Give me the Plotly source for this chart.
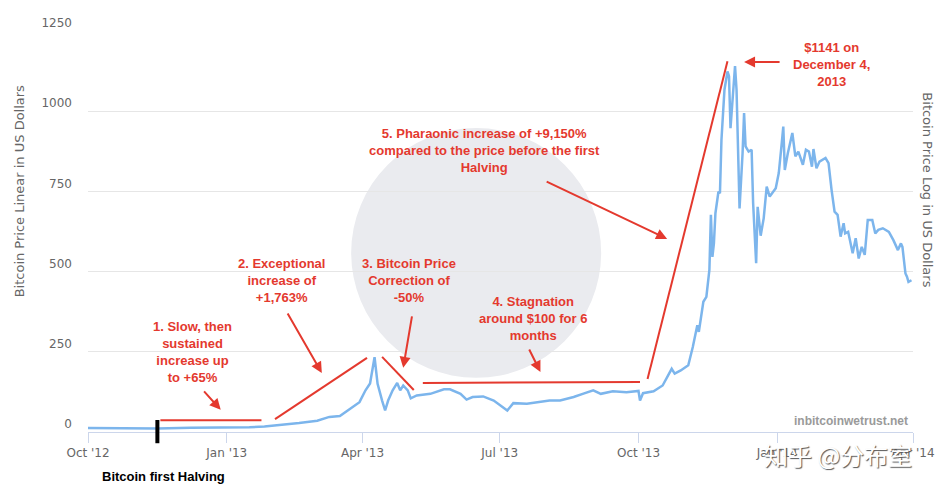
import plotly.graph_objects as go

# daily-ish closing prices
dates = [
    "2012-10-01", "2012-10-22", "2012-11-16", "2012-12-08", "2013-01-01", "2013-01-16",
    "2013-01-26", "2013-02-07", "2013-02-18", "2013-03-02", "2013-03-10", "2013-03-17",
    "2013-03-22", "2013-03-26", "2013-03-30", "2013-04-03", "2013-04-06", "2013-04-09",
    "2013-04-11", "2013-04-14", "2013-04-16", "2013-04-18", "2013-04-21", "2013-04-24",
    "2013-04-26", "2013-04-28", "2013-05-01", "2013-05-03", "2013-05-07", "2013-05-16",
    "2013-05-25", "2013-05-29", "2013-06-05", "2013-06-09", "2013-06-13", "2013-06-20",
    "2013-06-27", "2013-07-06", "2013-07-10", "2013-07-19", "2013-07-28", "2013-08-03",
    "2013-08-10", "2013-08-19", "2013-08-25", "2013-09-01", "2013-09-06", "2013-09-14",
    "2013-09-23", "2013-10-01", "2013-10-02", "2013-10-04", "2013-10-11", "2013-10-17",
    "2013-10-23", "2013-10-25", "2013-10-29", "2013-11-03", "2013-11-06", "2013-11-09",
    "2013-11-10", "2013-11-13", "2013-11-15", "2013-11-17", "2013-11-18", "2013-11-19",
    "2013-11-20", "2013-11-21", "2013-11-23", "2013-11-24", "2013-11-25", "2013-11-27",
    "2013-11-29", "2013-11-30", "2013-12-01", "2013-12-03", "2013-12-04", "2013-12-05",
    "2013-12-07", "2013-12-09", "2013-12-10", "2013-12-11", "2013-12-13", "2013-12-15",
    "2013-12-16", "2013-12-18", "2013-12-19", "2013-12-21", "2013-12-23", "2013-12-25",
    "2013-12-27", "2013-12-31", "2014-01-02", "2014-01-04", "2014-01-05", "2014-01-06",
    "2014-01-08", "2014-01-11", "2014-01-13", "2014-01-15", "2014-01-18", "2014-01-20",
    "2014-01-22", "2014-01-24", "2014-01-25", "2014-01-27", "2014-01-29", "2014-02-02",
    "2014-02-04", "2014-02-06", "2014-02-08", "2014-02-10", "2014-02-12", "2014-02-14",
    "2014-02-15", "2014-02-17", "2014-02-20", "2014-02-22", "2014-02-24", "2014-02-26",
    "2014-02-28", "2014-03-02", "2014-03-05", "2014-03-07", "2014-03-09", "2014-03-12",
    "2014-03-16", "2014-03-19", "2014-03-22", "2014-03-24", "2014-03-25", "2014-03-27",
    "2014-03-28", "2014-03-29", "2014-03-31",
]
prices = [
    12.5, 11.8, 11.2, 13.0, 13.5, 14.5,
    17, 22, 28, 35, 47, 50,
    67, 78, 93, 130, 151, 233,
    150, 98, 67, 98, 130, 153,
    130, 145, 130, 105, 114, 119,
    133, 133, 119, 101, 109, 111,
    98, 67, 90, 88, 93, 98,
    98, 109, 119, 130, 119, 127,
    124, 128, 98, 121, 127, 145,
    197, 182, 192, 208, 265, 333,
    312, 406, 421, 505, 677, 546,
    588, 682, 749, 744, 911, 1067,
    1124, 1109, 947, 1088, 1141, 1067,
    697, 869, 994, 890, 874, 880,
    713, 526, 702, 612, 666, 765,
    734, 760, 807, 901, 952, 817,
    869, 932, 859, 874, 833, 880,
    874, 827, 882, 822, 843, 854,
    838, 755, 687, 677, 609, 651,
    619, 624, 557, 604, 541, 577,
    552, 661, 661, 619, 630, 635,
    624, 598, 567, 588, 577, 494,
    484, 468, 473,
]

x_ticks = ["2012-10-01", "2013-01-01", "2013-04-01", "2013-07-01", "2013-10-01", "2014-01-01", "2014-04-01"]
x_labels = ["Oct '12", "Jan '13", "Apr '13", "Jul '13", "Oct '13", "Jan '14", "Apr '14"]
y_ticks = [0, 250, 500, 750, 1000, 1250]

halving_date = "2012-11-16"

RED = "#e4392e"
GREY = "#666666"
TICK_FONT = "DejaVu Sans"
NOTE_FONT = "Liberation Sans, Arial, sans-serif"

fig = go.Figure()

fig.add_trace(go.Scatter(
    x=dates,
    y=prices,
    mode="lines",
    line=dict(color="#7cb5ec", width=2.5),
    hoverinfo="x+y",
    showlegend=False,
))

# faint round logo watermark behind the plot
fig.add_shape(type="circle", xref="paper", yref="paper",
              x0=0.319, x1=0.622, y0=0.135, y1=0.758,
              fillcolor="#eaebef", line=dict(width=0), layer="below")

# red guide lines drawn over the chart
segments = [
    ("2012-11-18", 37, "2013-01-24", 37),
    ("2013-02-02", 40, "2013-04-04", 231),
    ("2013-04-14", 234, "2013-05-05", 131),
    ("2013-05-11", 153, "2013-10-02", 156),
    ("2013-10-07", 165, "2013-11-29", 1156),
]
for x0, y0, x1, y1 in segments:
    fig.add_shape(type="line", xref="x", yref="y", x0=x0, y0=y0, x1=x1, y1=y1,
                  line=dict(color=RED, width=2))

# halving marker below the axis
fig.add_shape(type="line", xref="x", yref="paper", x0=halving_date, x1=halving_date,
              y0=-0.028, y1=0.030, line=dict(color="black", width=4))

arrows = [
    ("2012-12-28", 69, -18, -20),
    ("2013-03-05", 184, -35, -61),
    ("2013-04-28", 200, 9, -53),
    ("2013-07-28", 187, -12, -24),
    ("2013-10-20", 602, -122, -58),
    ("2013-12-10", 1153, 37, 0),
]
for x, y, ax, ay in arrows:
    fig.add_annotation(x=x, y=y, ax=ax, ay=ay, xref="x", yref="y", text="",
                       showarrow=True, arrowhead=2, arrowsize=1.1, arrowwidth=2,
                       arrowcolor=RED, standoff=0)

notes = [
    ("2012-12-09", 248, "1. Slow, then<br>sustained<br>increase up<br>to +65%"),
    ("2013-02-06", 471, "2. Exceptional<br>increase of<br>+1,763%"),
    ("2013-05-02", 471, "3. Bitcoin Price<br>Correction of<br>-50%"),
    ("2013-07-23", 355, "4. Stagnation<br>around $100 for 6<br>months"),
    ("2013-06-21", 876, "5. Pharaonic increase of +9,150%<br>compared to the price before the first<br>Halving"),
    ("2014-02-06", 1147, "$1141 on<br>December 4,<br>2013"),
]
for x, y, txt in notes:
    fig.add_annotation(x=x, y=y, xref="x", yref="y", text="<b>" + txt + "</b>",
                       showarrow=False, align="center", xanchor="center", yanchor="middle",
                       font=dict(family=NOTE_FONT, size=13, color=RED))

fig.add_annotation(x=0.996, y=0.027, xref="paper", yref="paper",
                   text="<b>inbitcoinwetrust.net</b>", showarrow=False,
                   xanchor="right", yanchor="middle",
                   font=dict(family=NOTE_FONT, size=12, color="#9a9a9a"))

fig.add_annotation(x=0.091, y=-0.112, xref="paper", yref="paper",
                   text="<b>Bitcoin first Halving</b>", showarrow=False,
                   xanchor="center", yanchor="middle",
                   font=dict(family=NOTE_FONT, size=13, color="black"))

fig.add_annotation(x=-0.082, y=0.601, xref="paper", yref="paper",
                   text="Bitcoin Price Linear in US Dollars", textangle=-90,
                   showarrow=False, xanchor="center", yanchor="middle",
                   font=dict(family=TICK_FONT, size=13, color=GREY))

fig.add_annotation(x=1.018, y=0.603, xref="paper", yref="paper",
                   text="Bitcoin Price Log in US Dollars", textangle=90,
                   showarrow=False, xanchor="center", yanchor="middle",
                   font=dict(family=TICK_FONT, size=13, color=GREY))

# zhihu watermark
fig.add_annotation(x=0.909, y=-0.055, xref="paper", yref="paper",
                   text="知乎 @分布室", showarrow=False,
                   xanchor="center", yanchor="middle",
                   font=dict(family="Noto Sans CJK SC", size=24, color="white",
                             shadow="1px 1px 1px #555"))

fig.update_layout(
    width=951,
    height=500,
    margin=dict(l=88, r=38, t=31, b=68),
    plot_bgcolor="white",
    paper_bgcolor="white",
    showlegend=False,
)

fig.update_xaxes(
    type="date",
    range=["2012-10-01", "2014-04-01"],
    tickvals=x_ticks,
    ticktext=x_labels,
    ticks="outside",
    ticklen=10,
    tickcolor="#ccd6eb",
    showline=True,
    linecolor="#ccd6eb",
    linewidth=1,
    showgrid=False,
    zeroline=False,
    tickfont=dict(family=TICK_FONT, size=12, color=GREY),
)
fig.update_yaxes(
    range=[0, 1250],
    tickvals=y_ticks,
    ticks="",
    showgrid=True,
    gridcolor="#e6e6e6",
    zeroline=False,
    showline=False,
    ticklabelstandoff=15,
    ticklabelshift=-8,
    tickfont=dict(family=TICK_FONT, size=12, color=GREY),
)

fig.write_html("out.html", config={"displayModeBar": False},
               post_script="document.body.style.margin='0';")
